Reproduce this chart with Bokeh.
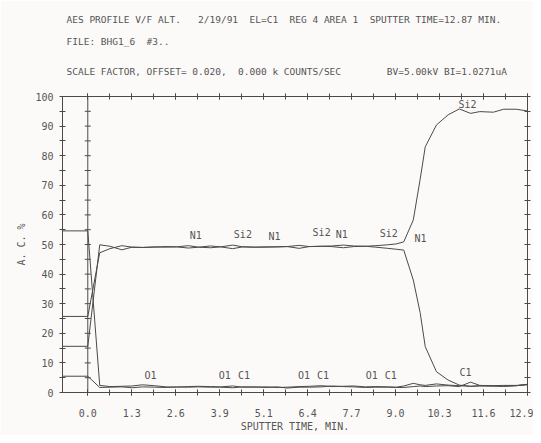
from bokeh.plotting import figure
from bokeh.models import LinearAxis, FixedTicker, Span, Title
from bokeh.core.properties import value
from bokeh.embed import file_html
from bokeh.resources import INLINE

# ---------------- data (read from the scanned AES depth profile) ----------------
t = [-0.74, 0.0, 0.35, 0.65, 1.0, 1.3, 1.6, 1.95, 2.3, 2.6, 2.95, 3.25, 3.6, 3.9,
     4.25, 4.55, 4.9, 5.2, 5.55, 5.85, 6.2, 6.5, 6.85, 7.15, 7.5, 7.8, 8.15, 8.45,
     8.8, 9.05, 9.27, 9.55, 9.75, 9.9, 10.23, 10.57, 10.9, 11.23, 11.5, 11.9,
     12.2, 12.57, 12.9]

si2 = [25.7, 25.7, 47.2, 48.6, 49.6, 49.1, 49.0, 49.1, 49.3, 49.2, 49.6, 49.1, 49.5, 49.2,
       49.8, 49.2, 49.1, 49.2, 49.2, 49.3, 49.7, 49.3, 49.4, 49.5, 49.8, 49.5, 49.4, 49.6,
       49.9, 50.2, 50.9, 58.3, 72.0, 83.0, 90.4, 93.8, 95.8, 94.3, 94.9, 94.7,
       95.7, 95.7, 95.1]

n1 = [15.6, 15.6, 49.9, 49.4, 48.2, 49.1, 49.0, 49.2, 49.1, 49.2, 48.8, 49.1, 48.9, 49.2,
      48.6, 49.2, 49.1, 49.1, 49.2, 49.3, 48.7, 49.3, 49.4, 49.3, 48.9, 49.3, 49.4, 49.1,
      48.7, 48.4, 48.1, 38.0, 27.0, 15.5, 7.0, 4.2, 2.5, 2.1, 2.3, 2.2,
      2.1, 2.3, 2.7]

o1 = [54.6, 54.6, 2.4, 2.0, 2.1, 2.2, 2.6, 2.3, 1.9, 1.8, 2.0, 2.1, 2.0, 1.9,
      2.2, 1.8, 1.8, 1.9, 1.7, 1.8, 2.0, 2.1, 2.3, 2.0, 2.1, 2.2, 1.9, 2.0,
      1.9, 1.8, 2.2, 3.1, 2.6, 2.4, 2.9, 2.5, 2.3, 2.1, 2.2, 2.2,
      2.1, 2.3, 2.8]

c1 = [5.5, 5.5, 1.7, 1.8, 1.9, 1.6, 1.9, 1.8, 1.7, 1.9, 1.8, 1.9, 1.8, 1.8,
      1.6, 1.9, 1.9, 1.7, 1.9, 1.5, 1.8, 1.8, 1.9, 2.2, 2.0, 1.9, 1.7, 1.8,
      1.8, 1.7, 1.7, 2.0, 2.2, 2.0, 2.2, 2.3, 2.0, 3.5, 2.4, 2.3,
      2.4, 2.4, 2.6]

# element tags printed along the curves
tag_text = ["N1", "Si2", "N1", "Si2", "N1", "Si2", "N1", "Si2",
            "O1", "O1", "C1", "O1", "C1", "O1", "C1", "C1"]
tag_x = [3.17, 4.55, 5.48, 6.86, 7.45, 8.83, 9.76, 11.14,
         1.84, 4.02, 4.58, 6.34, 6.9, 8.33, 8.89, 11.08]
tag_y = [53.1, 53.5, 52.7, 54.0, 53.4, 53.6, 52.0, 97.4,
         5.8, 5.8, 5.8, 5.8, 5.8, 5.8, 5.8, 6.6]

x_major = [i * 1.29 for i in range(11)]
x_minor = [i * 0.645 for i in range(21)]
x_tick_labels = ["0.0", "1.3", "2.6", "3.9", "5.1", "6.4", "7.7", "9.0", "10.3", "11.6", "12.9"]
y_major = list(range(0, 101, 10))
y_minor = list(range(5, 100, 10))
y_all = list(range(5, 100, 5))

NB = "\u00a0"
header = [
    "AES PROFILE V/F ALT." + NB * 3 + "2/19/91" + NB * 2 + "EL=C1" + NB * 2
    + "REG 4 AREA 1" + NB * 2 + "SPUTTER TIME=12.87 MIN.",
    "FILE: BHG1_6" + NB * 2 + "#3..",
    "SCALE FACTOR, OFFSET= 0.020," + NB * 2 + "0.000 k COUNTS/SEC" + NB * 8
    + "BV=5.00kV BI=1.0271uA",
]

# ---------------- styling ----------------
FONT = "DejaVu Sans Mono"
INK = "#4a4a4a"
TXT = "#555555"
PAPER = "#fcfaf8"

p = figure(width=533, height=435, x_range=(-0.742, 12.9), y_range=(0, 100),
           output_backend="svg", toolbar_location=None,
           min_border_left=62, min_border_right=6, min_border_top=96, min_border_bottom=43,
           x_axis_location=None, y_axis_location=None)
p.background_fill_color = PAPER
p.border_fill_color = PAPER
p.outline_line_color = INK
p.grid.visible = False


def style_axis(ax, ticks, minor, labels=True):
    ax.ticker = FixedTicker(ticks=ticks, minor_ticks=minor)
    ax.axis_line_color = INK
    ax.major_tick_line_color = INK
    ax.minor_tick_line_color = INK
    ax.major_tick_in = 3
    ax.major_tick_out = 3
    ax.minor_tick_in = 3
    ax.minor_tick_out = 3
    ax.major_label_text_font = FONT
    if labels:
        ax.major_label_text_color = TXT
        ax.major_label_text_font_size = "10px"
    else:
        ax.major_label_text_color = None
        ax.major_label_text_font_size = "1px"
        ax.major_label_standoff = 0
    ax.axis_label_text_font = FONT
    ax.axis_label_text_color = TXT
    ax.axis_label_text_font_style = "normal"
    ax.axis_label_text_font_size = "10px"


xb = LinearAxis(axis_label="SPUTTER TIME, MIN.")
style_axis(xb, x_major, x_minor)
xb.major_label_overrides = {x_major[i]: x_tick_labels[i] for i in range(11)}
xb.major_label_standoff = 13
xb.axis_label_standoff = 1
p.add_layout(xb, "below")

xt = LinearAxis()
style_axis(xt, x_major, x_minor, labels=False)
p.add_layout(xt, "above")

yl = LinearAxis(axis_label="A. C. %")
style_axis(yl, y_major, y_minor)
yl.major_label_standoff = 6
yl.axis_label_standoff = 5
p.add_layout(yl, "left")

yr = LinearAxis()
style_axis(yr, y_major, y_minor, labels=False)
p.add_layout(yr, "right")

# vertical zero line with its own ticks
p.add_layout(Span(location=0, dimension="height", line_color=INK, line_width=1))
p.scatter([0] * len(y_all), y_all, marker="dash", size=6, line_color=INK)

for series in (si2, n1, o1, c1):
    p.line(t, series, line_color=INK, line_width=1)

p.text(tag_x, tag_y, text=tag_text, text_font=value(FONT), text_font_size="10px",
       text_color=TXT, text_align="center", text_baseline="middle")

# header lines, stacked above the plot (first added sits nearest the frame)
header_standoff = [34, 0, 17]
for i, line in enumerate(reversed(header)):
    p.add_layout(Title(text=line, align="left", offset=4, standoff=header_standoff[i],
                       text_font=FONT, text_font_size="9.5px", text_font_style="normal",
                       text_color=TXT), "above")

open("out.html", "w").write(file_html(p, INLINE))
